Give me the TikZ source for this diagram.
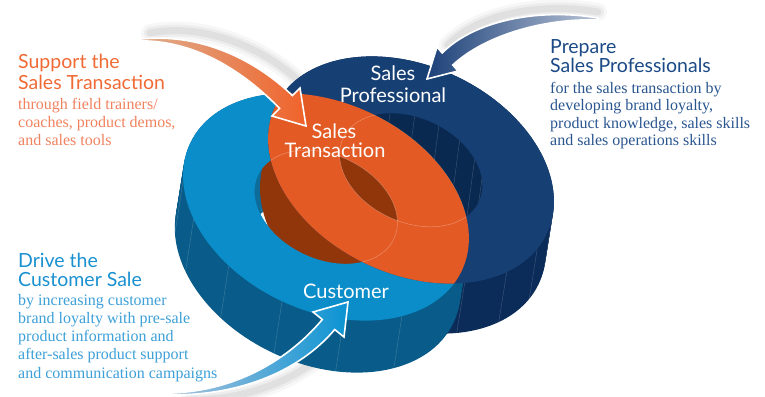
\documentclass[tikz,border=0pt]{standalone}
\usepackage{fontspec}
\setmainfont{Liberation Serif}
\newfontfamily\hfont{Lato}
\definecolor{lblue}{HTML}{0A8DC8}
\definecolor{lblueside}{HTML}{095C89}
\definecolor{lbluewall}{HTML}{0D6C99}
\definecolor{navy}{HTML}{163F74}
\definecolor{navyside}{HTML}{0B2C59}
\definecolor{navywall}{HTML}{0A2950}
\definecolor{orng}{HTML}{E35A24}
\definecolor{brwn}{HTML}{91350A}
\definecolor{orngtxt}{HTML}{F06A35}
\definecolor{orngbody}{HTML}{F1825E}
\definecolor{navytxt}{HTML}{1B4A86}
\definecolor{navybody}{HTML}{2A5690}
\definecolor{bluetxt}{HTML}{1A91D0}
\definecolor{bluebody}{HTML}{3DA0D8}
\definecolor{arrtan}{HTML}{DDB293}
\definecolor{arrorng}{HTML}{F0622A}
\definecolor{arrnavy}{HTML}{1C4179}
\definecolor{arrnavylt}{HTML}{B9C3D6}
\definecolor{arrblue}{HTML}{0A93D3}
\definecolor{arrbluelt}{HTML}{A9C2DC}
\def\OUT{(0,0) ellipse (150 and 104)}
\def\IN{(0,0) ellipse (75 and 52)}
\tikzset{
  Lt/.style={shift={(326,207)},rotate=-25},
  Dt/.style={shift={(411,170)},rotate=-25},
  hd/.style={anchor=base west, inner sep=0pt, font=\hfont\fontsize{19.5}{21}\selectfont},
  bd/.style={anchor=base west, inner sep=0pt, font=\fontsize{16}{18}\selectfont},
  lbl/.style={anchor=base, inner sep=0pt, text=white, font=\hfont\fontsize{20}{22}\selectfont},
  streak/.style={draw=white, opacity=0.18, line width=0.5pt},
  faint/.style={draw=white, opacity=0.3, line width=0.5pt},
  arrowbody/.style={draw=white, line width=1.6pt, line join=miter},
  glow/.style={draw=black, line cap=round},
}
\begin{document}
\begin{tikzpicture}[x=1pt,y=-1pt]
\useasboundingbox (0,0) rectangle (765,396);
\fill[white] (0,0) rectangle (765,396);

% ---------- arrow glows (behind everything) ----------
\foreach \w/\o in {18/0.03,12/0.04,7/0.05}{
  \draw[glow, line width=\w, opacity=\o] (150,33) .. controls (205,22) and (268,50) .. (302,84);
  \draw[glow, line width=\w, opacity=\o] (598,12) .. controls (540,2) and (478,14) .. (448,45);
  \draw[glow, line width=\w, opacity=\o] (190,400) .. controls (258,400) and (312,372) .. (342,336);
}

% ---------- side walls ----------
\foreach \t in {0,2,...,50} \fill[navyside, shift={({-0.16*\t},\t)}, Dt] \OUT;
\foreach \a [count=\i] in {-10,10,30,50,70}{
  \path[Dt] ({150*cos(\a)},{104*sin(\a)}) coordinate (ds\i);
  \draw[streak] (ds\i) -- ++(-8,50);
}
\foreach \t in {0,2,...,52} \fill[lblueside, shift={({-0.16*\t},\t)}, Lt] \OUT;
\foreach \a [count=\i] in {40,65,90,115,140,160}{
  \path[Lt] ({150*cos(\a)},{104*sin(\a)}) coordinate (ls\i);
  \draw[streak] (ls\i) -- ++(-8,52);
}

% ---------- light hole contents ----------
\begin{scope}
  \clip[Lt] \IN;
  \fill[lbluewall, Lt] \IN;
  \foreach \a [count=\i] in {200,220,240}{
    \path[Lt] ({75*cos(\a)},{52*sin(\a)}) coordinate (lw\i);
    \draw[streak] (lw\i) -- ++(-8,50);
  }
  \fill[white, shift={(-8,52)}, Lt] \IN;
  \foreach \t in {0,2,...,50} \fill[brwn, shift={({-0.16*\t},\t)}, Dt] \OUT;
\end{scope}

% ---------- dark hole contents ----------
\begin{scope}
  \clip[Dt] \IN;
  \fill[navywall, Dt] \IN;
  \foreach \a [count=\i] in {215,235,255,275,295,315,335}{
    \path[Dt] ({75*cos(\a)},{52*sin(\a)}) coordinate (dw\i);
    \draw[streak] (dw\i) -- ++(-8,60);
  }
  \fill[white, shift={(-4,76)}, Dt] \IN;
\end{scope}

% ---------- top faces ----------
\fill[lblue, Lt, even odd rule] \OUT \IN;
\fill[navy, Dt, even odd rule] \OUT \IN;
\begin{scope}
  \clip[Lt] \OUT;
  \fill[orng, Dt] \OUT;
  \begin{scope}
    \clip[Lt] \IN;
    \fill[brwn, Dt] \IN;
  \end{scope}
  \begin{scope}
    \clip[Dt] \OUT;
    \draw[faint, Lt] \IN;
    \draw[faint, Dt] \IN;
  \end{scope}
\end{scope}

% ---------- ring labels ----------
\node[lbl] (sp1) at (393,80) {Sales};
\node[lbl] (sp2) at (393,102) {Professional};
\node[lbl] (st1) at (334,138) {Sales};
\node[lbl] (st2) at (335,157) {Transaction};
\node[lbl] (cu) at (346,298) {Customer};

% ---------- arrows ----------
\shadedraw[arrowbody, left color=arrtan, right color=arrorng]
  (133,40) .. controls (200,30) and (258,62) .. (292.4,95.6) -- (300,88) -- (306,126) -- (272,116)
  -- (279.6,108.4) .. controls (245,73) and (195,38) .. (133,41) -- cycle;
\shadedraw[arrowbody, left color=arrnavy, right color=arrnavylt]
  (598,18) .. controls (540,8) and (475,20) .. (442.2,53) -- (437,47) -- (427,79) -- (458,71)
  -- (452.8,65) .. controls (485,35) and (545,18) .. (598,20) -- cycle;
\shadedraw[arrowbody, left color=arrbluelt, right color=arrblue]
  (172,395) .. controls (250,395) and (305,365) .. (334.7,329.5) -- (344,337) -- (348,302) -- (313,312)
  -- (322.3,319.5) .. controls (295,352) and (245,390) .. (172,393) -- cycle;

% ---------- texts ----------
\node[hd, text=orngtxt] (o1) at (18,68) {Support the};
\node[hd, text=orngtxt] (o2) at (18,89) {Sales Transaction};
\node[bd, text=orngbody] (o3) at (18,109.5) {through field trainers/};
\node[bd, text=orngbody] (o4) at (18,127.5) {coaches, product demos,};
\node[bd, text=orngbody] (o5) at (18,145.5) {and sales tools};

\node[hd, text=navytxt] (n1) at (550,53) {Prepare};
\node[hd, text=navytxt] (n2) at (550,73) {Sales Professionals};
\node[bd, text=navybody] (n3) at (550,93) {for the sales transaction by};
\node[bd, text=navybody] (n4) at (550,110.5) {developing brand loyalty,};
\node[bd, text=navybody] (n5) at (550,128) {product knowledge, sales skills};
\node[bd, text=navybody] (n6) at (550,145.5) {and sales operations skills};

\node[hd, text=bluetxt] (b1) at (18,267) {Drive the};
\node[hd, text=bluetxt] (b2) at (18,286) {Customer Sale};
\node[bd, text=bluebody] (b3) at (18,305) {by increasing customer};
\node[bd, text=bluebody] (b4) at (18,323.3) {brand loyalty with pre-sale};
\node[bd, text=bluebody] (b5) at (18,341.6) {product information and};
\node[bd, text=bluebody] (b6) at (18,359.9) {after-sales product support};
\node[bd, text=bluebody] (b7) at (18,378.2) {and communication campaigns};
\end{tikzpicture}
\end{document}
